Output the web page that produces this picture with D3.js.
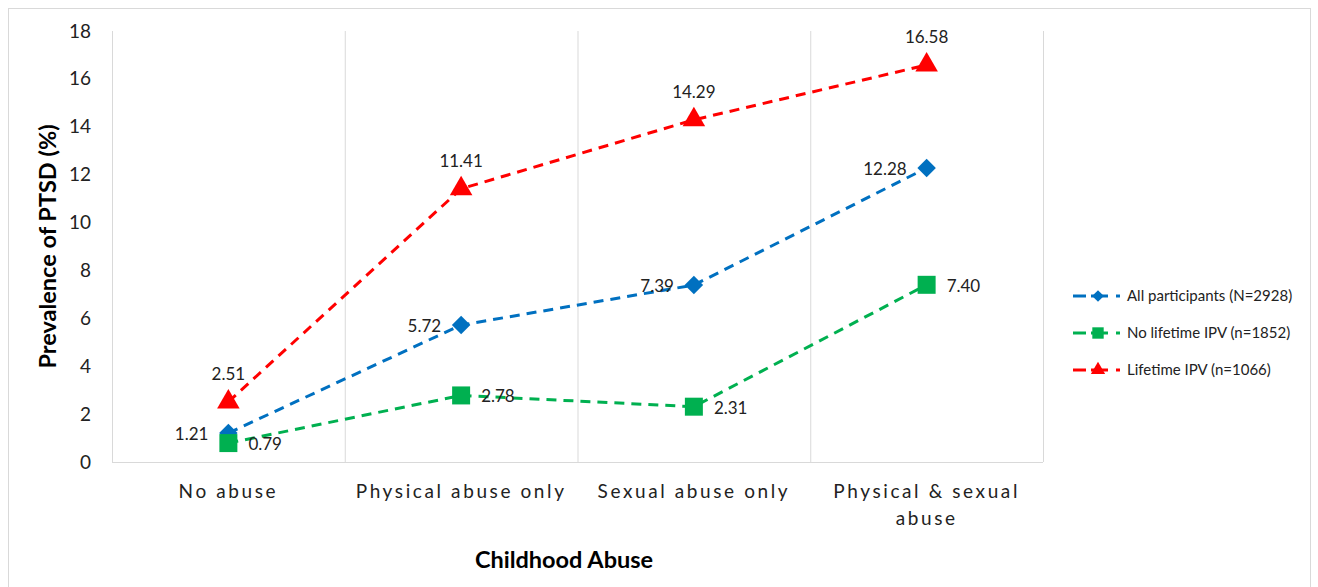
<!DOCTYPE html>
<html lang="en">
<head>
    <meta charset="UTF-8">
    <title>Prevalence of PTSD by Childhood Abuse</title>
    <script src="https://d3js.org/d3.v7.min.js"></script>
    <style>
        body { margin: 0; background: #fff; }
        svg { display: block; font-family: Lato, "Open Sans", sans-serif; }
    </style>
</head>
<body>
<div id="chart"></div>
<script>
    const categories = ["No abuse", "Physical abuse only", "Sexual abuse only", "Physical & sexual abuse"];
    const allParticipants = [1.21, 5.72, 7.39, 12.28];
    const noLifetimeIPV = [0.79, 2.78, 2.31, 7.40];
    const lifetimeIPV = [2.51, 11.41, 14.29, 16.58];
    const yTicks = [0, 2, 4, 6, 8, 10, 12, 14, 16, 18];

    // diamond = square turned 45deg (Excel style)
    const diamond = {
        draw(ctx, size) {
            const r = Math.sqrt(size) / 2 * Math.SQRT2;
            ctx.moveTo(0, -r); ctx.lineTo(r, 0); ctx.lineTo(0, r); ctx.lineTo(-r, 0); ctx.closePath();
        }
    };

    const series = [
        { name: "All participants (N=2928)", values: allParticipants, color: "#0070c0", shape: diamond, size: 170, label: "left" },
        { name: "No lifetime IPV (n=1852)", values: noLifetimeIPV, color: "#00b050", shape: d3.symbolSquare, size: 324, label: "right" },
        { name: "Lifetime IPV (n=1066)", values: lifetimeIPV, color: "#ff0000", shape: d3.symbolTriangle, size: 220, label: "top" }
    ];

    const width = 1318, height = 587;
    const margin = { left: 112, right: 275, top: 31, bottom: 125 };

    const svg = d3.select("#chart").append("svg")
        .attr("width", width)
        .attr("height", height);

    // outer frame
    svg.append("rect")
        .attr("x", 8.5).attr("y", 8.5)
        .attr("width", 1302).attr("height", 600)
        .attr("fill", "none").attr("stroke", "#d9d9d9");

    const x = d3.scaleBand()
        .domain(categories)
        .range([margin.left, width - margin.right]);

    const y = d3.scaleLinear()
        .domain([0, 18])
        .range([height - margin.bottom, margin.top]);

    // vertical category dividers + plot edges
    const edges = categories.map(c => x(c)).concat([x.range()[1]]);
    svg.append("g")
        .selectAll("line")
        .data(edges)
        .join("line")
        .attr("x1", d => d + 0.5).attr("x2", d => d + 0.5)
        .attr("y1", y(18)).attr("y2", y(0))
        .attr("stroke", "#d9d9d9");

    svg.append("line")
        .attr("x1", x.range()[0]).attr("x2", x.range()[1])
        .attr("y1", y(0) + 0.5).attr("y2", y(0) + 0.5)
        .attr("stroke", "#d9d9d9");

    // y axis
    const yAxis = svg.append("g")
        .attr("transform", `translate(${margin.left},0)`)
        .call(d3.axisLeft(y).tickValues(yTicks).tickSize(0).tickPadding(21));
    yAxis.select(".domain").remove();
    yAxis.selectAll("text")
        .attr("font-size", 19)
        .attr("font-family", "Lato, sans-serif")
        .attr("fill", "#222");

    // x axis labels
    const xAxis = svg.append("g")
        .attr("transform", `translate(0,${y(0)})`)
        .call(d3.axisBottom(x).tickSize(0).tickPadding(0));
    xAxis.select(".domain").remove();
    xAxis.selectAll("text").remove();
    const xLabelLines = c => c === "Physical & sexual abuse" ? ["Physical & sexual", "abuse"] : [c];
    xAxis.selectAll(".tick")
        .append("text")
        .attr("font-size", 19)
        .attr("font-family", "Lato, sans-serif")
        .attr("letter-spacing", "2.6px")
        .attr("fill", "#222")
        .attr("text-anchor", "middle")
        .selectAll("tspan")
        .data(d => xLabelLines(d))
        .join("tspan")
        .attr("x", 0)
        .attr("y", (d, i) => 36 + i * 27)
        .text(d => d);

    // axis titles
    svg.append("text")
        .attr("transform", `translate(56,${y(9)}) rotate(-90)`)
        .attr("text-anchor", "middle")
        .attr("font-size", 23.5)
        .attr("font-weight", "bold")
        .attr("fill", "#000")
        .text("Prevalence of PTSD (%)");

    svg.append("text")
        .attr("x", 564)
        .attr("y", 568)
        .attr("text-anchor", "middle")
        .attr("font-size", 23.5)
        .attr("font-weight", "bold")
        .attr("fill", "#000")
        .text("Childhood Abuse");

    const line = d3.line()
        .x((d, i) => x(categories[i]) + x.bandwidth() / 2)
        .y(d => y(d));

    series.forEach(s => {
        const g = svg.append("g");
        g.append("path")
            .datum(s.values)
            .attr("d", line)
            .attr("fill", "none")
            .attr("stroke", s.color)
            .attr("stroke-width", 3)
            .attr("stroke-dasharray", "10,7");

        g.selectAll("path.marker")
            .data(s.values)
            .join("path")
            .attr("class", "marker")
            .attr("d", d3.symbol().type(s.shape).size(s.size))
            .attr("transform", (d, i) => `translate(${x(categories[i]) + x.bandwidth() / 2},${y(d)})`)
            .attr("fill", s.color);

        g.selectAll("text")
            .data(s.values)
            .join("text")
            .attr("x", (d, i) => {
                const cx = x(categories[i]) + x.bandwidth() / 2;
                if (s.label === "left") return cx - 20;
                if (s.label === "right") return cx + 20;
                return cx;
            })
            .attr("y", d => {
                if (s.label === "top") return y(d) - 22;
                return y(d) + 7;
            })
            .attr("text-anchor", s.label === "left" ? "end" : (s.label === "right" ? "start" : "middle"))
            .attr("font-size", 17)
            .attr("fill", "#222")
            .text(d => d.toFixed(2));
    });

    // legend
    const legend = svg.append("g")
        .attr("transform", "translate(1073,296)");
    series.forEach((s, i) => {
        const row = legend.append("g").attr("transform", `translate(0,${i * 37})`);
        row.append("line")
            .attr("x1", 0).attr("x2", 13)
            .attr("stroke", s.color).attr("stroke-width", 3);
        row.append("line")
            .attr("x1", 18).attr("x2", 35)
            .attr("stroke", s.color).attr("stroke-width", 3);
        row.append("line")
            .attr("x1", 43).attr("x2", 47)
            .attr("stroke", s.color).attr("stroke-width", 3);
        row.append("path")
            .attr("d", d3.symbol().type(s.shape).size(s.size * 0.4))
            .attr("transform", "translate(25,0)")
            .attr("fill", s.color);
        row.append("text")
            .attr("x", 54)
            .attr("y", 5)
            .attr("font-size", 15)
            .attr("fill", "#222")
            .text(s.name);
    });
</script>
</body>
</html>
